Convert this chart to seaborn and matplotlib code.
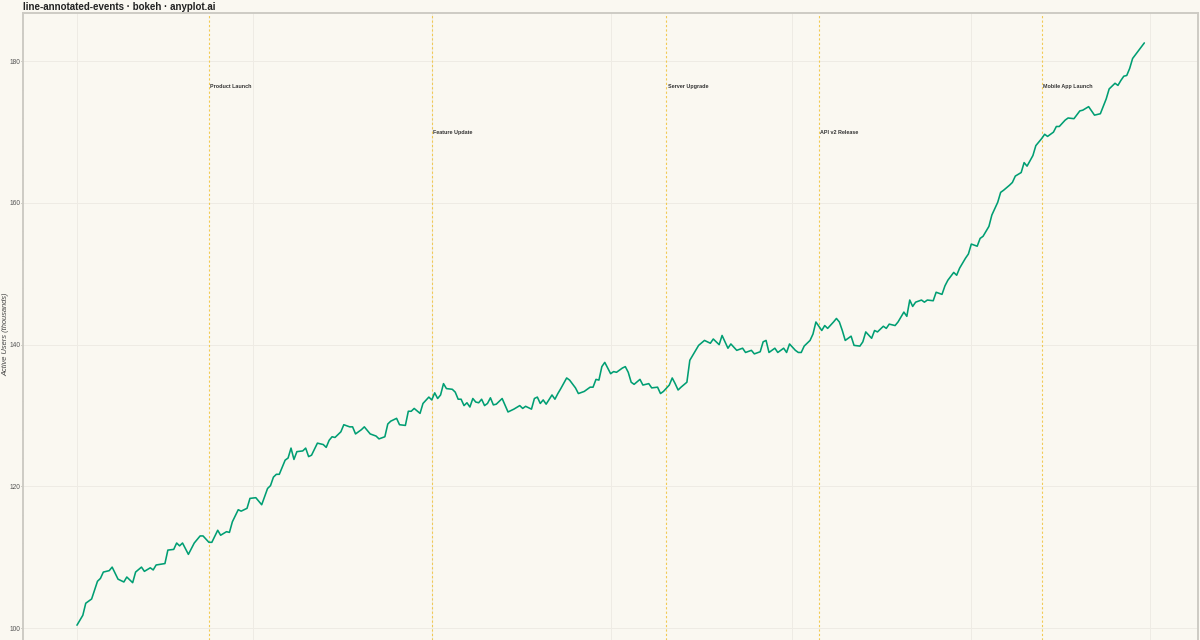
import matplotlib
matplotlib.use("Agg")
import matplotlib.pyplot as plt
import matplotlib.dates as mdates
from matplotlib.ticker import MultipleLocator, FixedLocator
import pandas as pd
import seaborn as sns

# ---------------- data ----------------
start_date = "2024-01-01"
day_offsets = [
    0, 2, 3, 5, 7, 8, 9, 11, 12, 14,
    16, 17, 19, 20, 22, 23, 25, 26, 27, 30,
    31, 33, 34, 35, 36, 38, 40, 42, 43, 45,
    46, 48, 49, 51, 52, 53, 55, 56, 58, 59,
    61, 63, 65, 66, 67, 68, 69, 71, 72, 73,
    74, 75, 77, 78, 79, 80, 82, 84, 85, 86,
    87, 88, 90, 91, 93, 94, 95, 97, 98, 100,
    102, 103, 105, 106, 107, 109, 110, 112, 113, 114,
    115, 117, 118, 120, 121, 122, 123, 124, 125, 126,
    128, 129, 130, 131, 132, 133, 134, 135, 136, 137,
    138, 139, 140, 141, 142, 143, 145, 147, 149, 151,
    152, 153, 155, 156, 157, 158, 159, 160, 162, 163,
    164, 165, 167, 168, 170, 171, 173, 175, 176, 177,
    178, 179, 180, 181, 182, 183, 184, 186, 187, 188,
    189, 190, 192, 193, 194, 195, 196, 198, 199, 200,
    202, 203, 204, 205, 206, 208, 209, 210, 212, 214,
    216, 217, 219, 220, 222, 223, 225, 227, 228, 230,
    231, 233, 234, 235, 236, 238, 239, 241, 242, 243,
    245, 246, 247, 248, 250, 251, 252, 254, 255, 256,
    258, 259, 260, 261, 262, 264, 265, 267, 268, 269,
    271, 272, 273, 275, 276, 277, 279, 280, 282, 283,
    284, 285, 286, 288, 289, 290, 292, 293, 295, 296,
    297, 299, 300, 301, 303, 304, 305, 307, 308, 309,
    311, 312, 314, 315, 316, 318, 319, 320, 322, 323,
    324, 326, 327, 329, 330, 331, 333, 334, 335, 337,
    338, 340, 342, 343, 345, 347, 349, 351, 352, 354,
    355, 356, 357, 358, 359, 360, 362, 364,
]
active_users = [
    100.4, 101.8, 103.5, 104.1, 106.6, 107.0, 107.9, 108.1, 108.6, 106.9,
    106.5, 107.2, 106.4, 107.9, 108.6, 108.0, 108.5, 108.2, 108.9, 109.1,
    111.0, 111.1, 112.0, 111.6, 112.0, 110.4, 112.0, 113.0, 113.0, 112.1,
    112.1, 113.8, 113.1, 113.6, 113.5, 115.0, 116.7, 116.5, 116.9, 118.3,
    118.4, 117.4, 119.7, 120.1, 121.3, 121.7, 121.7, 123.7, 124.0, 125.4,
    123.8, 124.9, 125.0, 125.4, 124.2, 124.4, 126.1, 125.9, 125.5, 126.5,
    127.0, 126.9, 127.7, 128.7, 128.4, 128.4, 127.4, 128.0, 128.4, 127.4,
    127.1, 126.7, 127.0, 128.8, 129.2, 129.6, 128.7, 128.6, 130.6, 130.6,
    131.0, 130.3, 131.7, 132.6, 132.2, 133.2, 132.4, 132.9, 134.5, 133.8,
    133.7, 133.3, 132.3, 132.3, 131.4, 131.8, 131.2, 132.4, 131.9, 131.8,
    132.3, 131.4, 131.7, 132.5, 131.5, 131.6, 132.4, 130.5, 130.9, 131.4,
    131.0, 131.3, 130.9, 132.4, 132.6, 131.7, 132.2, 131.6, 132.9, 132.3,
    133.1, 133.8, 135.3, 135.0, 133.9, 133.1, 133.4, 134.0, 134.0, 135.1,
    135.0, 136.9, 137.5, 136.7, 135.9, 136.2, 136.1, 136.7, 136.9, 136.1,
    134.7, 134.4, 135.1, 134.3, 134.4, 134.5, 133.9, 134.0, 133.1, 133.4,
    134.3, 135.3, 134.5, 133.6, 134.0, 134.7, 137.8, 138.5, 139.9, 140.6,
    140.2, 140.8, 140.0, 141.3, 139.5, 140.1, 139.2, 139.5, 138.9, 139.2,
    138.7, 139.0, 140.4, 140.6, 138.9, 139.5, 138.9, 139.5, 138.9, 140.1,
    139.2, 138.9, 138.9, 139.8, 140.6, 141.5, 143.2, 142.0, 142.7, 142.3,
    143.2, 143.7, 143.2, 142.0, 140.6, 141.2, 139.9, 139.8, 140.4, 141.8,
    140.9, 142.0, 141.8, 142.6, 142.3, 142.9, 142.7, 143.2, 144.6, 144.0,
    146.3, 145.4, 146.0, 146.3, 146.0, 146.3, 146.2, 147.4, 147.1, 148.3,
    149.1, 150.2, 149.8, 150.8, 152.2, 152.8, 154.2, 153.9, 155.0, 155.3,
    156.7, 158.3, 160.1, 161.5, 161.8, 162.5, 162.9, 163.8, 164.3, 165.7,
    165.2, 166.7, 168.1, 169.1, 169.7, 169.4, 170.0, 170.8, 170.8, 171.7,
    172.0, 171.9, 173.0, 173.1, 173.6, 172.4, 172.6, 174.7, 176.1, 176.9,
    176.6, 177.3, 177.9, 178.0, 179.0, 180.4, 181.5, 182.6,
]
event_dates = ["2024-02-15", "2024-05-01", "2024-07-20", "2024-09-10", "2024-11-25"]
event_labels = ["Product Launch", "Feature Update", "Server Upgrade",
                "API v2 Release", "Mobile App Launch"]
y_ticks = [100, 120, 140, 160, 180]
title_text = "line-annotated-events · bokeh · anyplot.ai"
y_label_text = "Active Users (thousands)"

assert len(day_offsets) == len(active_users)

# ---------------- styling ----------------
BG = "#FAF8F1"
LINE = "#009E73"
EVENT = "#F2C84B"
GRID = "#EEEBE4"
SPINE = "#CDCBC4"

sns.set_theme(style="white")
plt.rcParams["font.family"] = ["Liberation Sans", "DejaVu Sans"]

start = pd.Timestamp(start_date)
df = pd.DataFrame({
    "date": start + pd.to_timedelta(day_offsets, unit="D"),
    "users": active_users,
})

fig = plt.figure(figsize=(12, 6.4), dpi=100, facecolor=BG)
ax = fig.add_axes([23 / 1200, 0.0, (1198 - 23) / 1200, (640 - 13) / 640])
ax.set_facecolor(BG)

sns.lineplot(data=df, x="date", y="users", ax=ax, color=LINE,
             linewidth=1.15, zorder=3)

# event markers
y_hi, y_lo = 176.5, 170.0
for i, (d, lab) in enumerate(zip(event_dates, event_labels)):
    dt = pd.Timestamp(d)
    ax.axvline(dt, color=EVENT, linewidth=0.8, linestyle=(0, (2, 2)),
               alpha=0.95, zorder=2)
    ax.text(dt + pd.Timedelta(days=0.5), y_hi if i % 2 == 0 else y_lo, lab,
            fontsize=3.9, fontweight="bold", color="#333333",
            ha="left", va="center", zorder=4)

# axes ranges
ax.set_xlim(start - pd.Timedelta(days=18.4), start + pd.Timedelta(days=382.3))
ax.set_ylim(98.31, 186.82)

ax.xaxis.set_major_locator(mdates.MonthLocator(bymonth=[1, 3, 5, 7, 9, 11]))
ax.yaxis.set_major_locator(FixedLocator(y_ticks))
ax.yaxis.set_minor_locator(MultipleLocator(4))

ax.grid(True, which="major", color=GRID, linewidth=0.7, zorder=0)
ax.set_axisbelow(True)

ax.tick_params(axis="x", which="both", bottom=False, labelbottom=False)
ax.tick_params(axis="y", which="major", left=True, length=1.6, width=0.6,
               color="#9A9890", pad=0.4, labelsize=4.8, labelcolor="#555555")
ax.tick_params(axis="y", which="minor", left=True, length=1.0, width=0.5,
               color="#9A9890")

ax.set_xlabel("")
ax.set_ylabel("")

for side in ["top", "right", "left"]:
    ax.spines[side].set_visible(True)
    ax.spines[side].set_color(SPINE)
    ax.spines[side].set_linewidth(1.4)
ax.spines["bottom"].set_visible(False)

fig.text(23 / 1200, 1 - 7 / 640, title_text, fontsize=7.0, fontweight="bold",
         color="#222222", ha="left", va="center")
fig.text(6 / 1200, 1 - 334 / 640, y_label_text, fontsize=5.4, style="italic",
         color="#444444", rotation=90, ha="center", va="center")

fig.savefig("out.png", dpi=100, facecolor=BG)
